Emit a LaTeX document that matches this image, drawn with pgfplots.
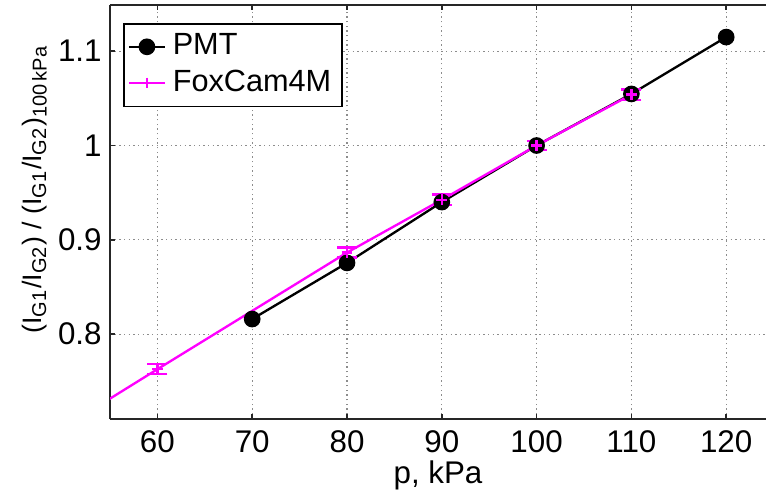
\documentclass[border=0pt]{standalone}
\usepackage{fontspec}
\setmainfont{Liberation Sans}
\usepackage{pgfplots}
\pgfplotsset{compat=1.18}
\definecolor{mmag}{rgb}{1,0,1}

\begin{document}
\begin{tikzpicture}
\begin{axis}[
    scale only axis,
    width=196.8pt, height=124.2pt,
    xmin=55, xmax=124.2,
    ymin=0.71, ymax=1.149,
    xtick={60,70,...,120},
    ytick={0.8,0.9,1,1.1},
    axis x line*=box, axis y line*=left,
    y axis line style={-},
    axis line style={black!85, line width=0.45pt},
    tick align=inside,
    major tick length=1.5pt,
    tick style={black!85, line width=0.45pt},
    grid=major,
    grid style={densely dotted, black!45, line width=0.35pt},
    /pgf/number format/assume math mode=true,
    tick label style={font=\fontsize{9.4}{11}\selectfont},
    yticklabel style={xshift=1pt},
    xlabel={p, kPa},
    ylabel={(I\textsubscript{G1}/I\textsubscript{G2}) / (I\textsubscript{G1}/I\textsubscript{G2})\textsubscript{100\,kPa}},
    xlabel style={font=\fontsize{9.4}{11}\selectfont, yshift=4.5pt},
    ylabel style={font=\fontsize{8.0}{10}\selectfont, at={(ticklabel cs:0.555,-3.5pt)}},
    legend style={at={(0.0198,0.9565)}, anchor=north west, draw=black,
        line width=0.45pt, fill=white, font=\fontsize{9.2}{11}\selectfont,
        inner xsep=1.2pt, inner ysep=1pt, row sep=-1pt},
    legend cell align=left,
    legend image code/.code={
        \draw[mark repeat=2, mark phase=2] plot coordinates {(0cm,0cm) (0.19cm,0cm) (0.38cm,0cm)};},
]
\coordinate (bl) at (rel axis cs:-0.1677,-0.1739);
\coordinate (tr) at (rel axis cs:1,1.0121);

\addplot[black, line width=0.7pt, mark=*, mark size=2.15pt, mark options={solid, fill=black}]
coordinates {
    (70, 0.816)
    (80, 0.8755)
    (90, 0.940)
    (100, 1.000)
    (110, 1.0547)
    (120, 1.115)
};
\addlegendentry{PMT}

\addplot[mmag, line width=0.7pt, mark=+, mark size=1.6pt,
    error bars/.cd, y dir=both, y explicit,
    error bar style={line width=0.7pt, mmag},
    error mark options={rotate=90, mark size=3pt, mmag, line width=0.7pt}]
coordinates {
    (60, 0.7628) +- (0, 0.0052)
    (80, 0.8865) +- (0, 0.0054)
    (90, 0.9425) +- (0, 0.0055)
    (100, 1.000) +- (0, 0.0050)
    (110, 1.0540) +- (0, 0.0055)
};
\addlegendentry{FoxCam4M}

\addplot[mmag, line width=0.7pt, forget plot] coordinates {
    (50, 0.7004)
    (60, 0.7628)
};
\end{axis}
\pgfresetboundingbox
\useasboundingbox (bl) rectangle (tr);
\end{tikzpicture}
\end{document}
